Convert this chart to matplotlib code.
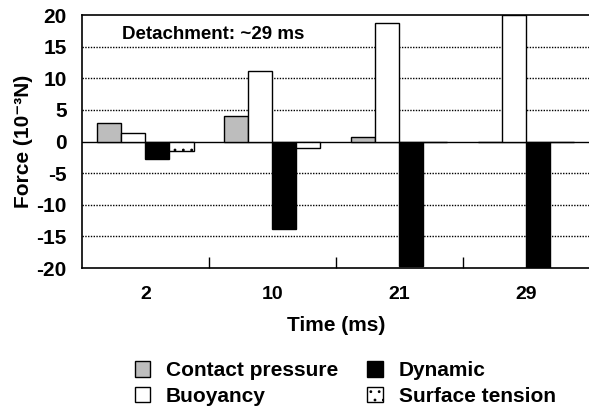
import matplotlib
matplotlib.use("Agg")
import matplotlib.pyplot as plt
import numpy as np
from matplotlib.ticker import FixedLocator

plt.rcParams['font.family'] = ['Liberation Sans', 'DejaVu Sans']
plt.rcParams['font.weight'] = 'bold'
plt.rcParams['hatch.linewidth'] = 0.8

times = ["2", "10", "21", "29"]
contact_pressure = [2.9, 4.0, 0.8, 0.0]
buoyancy = [1.3, 11.1, 18.7, 20.0]
dynamic = [-2.8, -13.9, -19.6, -20.0]
surface_tension = [-1.5, -1.0, -0.1, 0.0]

series = [
    ("Contact pressure", contact_pressure, dict(facecolor="#bdbdbd", edgecolor="black")),
    ("Buoyancy", buoyancy, dict(facecolor="white", edgecolor="black")),
    ("Dynamic", dynamic, dict(facecolor="black", edgecolor="black")),
    ("Surface tension", surface_tension, dict(facecolor="white", edgecolor="black", hatch="..")),
]

fig = plt.figure(figsize=(5.89, 4.08), dpi=100)
ax = fig.add_axes([0.139, 0.343, 0.862, 0.620])

x = np.arange(len(times))
w = 0.19
handles = []
for i, (name, vals, st) in enumerate(series):
    b = ax.bar(x + (i - 1.5) * w, vals, w, linewidth=1.0, label=name, zorder=3, **st)
    handles.append(b)

ax.set_xlim(-0.5, len(times) - 0.5)
ax.set_ylim(-20, 20)
ax.set_yticks(np.arange(-20, 21, 5))
ax.set_yticklabels([str(v) for v in range(-20, 21, 5)], fontsize=15, fontweight='bold')
ax.set_xticks(x)
ax.set_xticklabels(times, fontsize=14, fontweight='bold')
ax.tick_params(axis='x', which='major', length=0, pad=13)
ax.tick_params(axis='y', which='major', length=0, pad=11)
ax.xaxis.set_minor_locator(FixedLocator([0.5, 1.5, 2.5]))
ax.tick_params(axis='x', which='minor', direction='in', length=8, width=1)

for yv in [-15, -10, -5, 5, 10, 15]:
    ax.axhline(yv, color='black', linestyle=(0, (1, 1)), linewidth=1.0, zorder=1)
ax.axhline(0, color='black', linewidth=1.0, zorder=2)

for s in ax.spines.values():
    s.set_linewidth(1.2)

ax.set_ylabel("Force (10\u207b\u00b3N)", fontsize=15, fontweight='bold', labelpad=2)
ax.set_xlabel("Time (ms)", fontsize=15, fontweight='bold', labelpad=9)
ax.text(0.08, 0.925, "Detachment: ~29 ms", transform=ax.transAxes, fontsize=13.5,
        fontweight='bold', va='center', ha='left')

fig.legend(handles, [s[0] for s in series], ncol=2, loc='center', bbox_to_anchor=(0.586, 0.06),
           frameon=False, fontsize=15, handlelength=0.75, handleheight=0.75,
           columnspacing=1.4, labelspacing=0.3, handletextpad=0.75)

fig.savefig("out.png", dpi=100)
